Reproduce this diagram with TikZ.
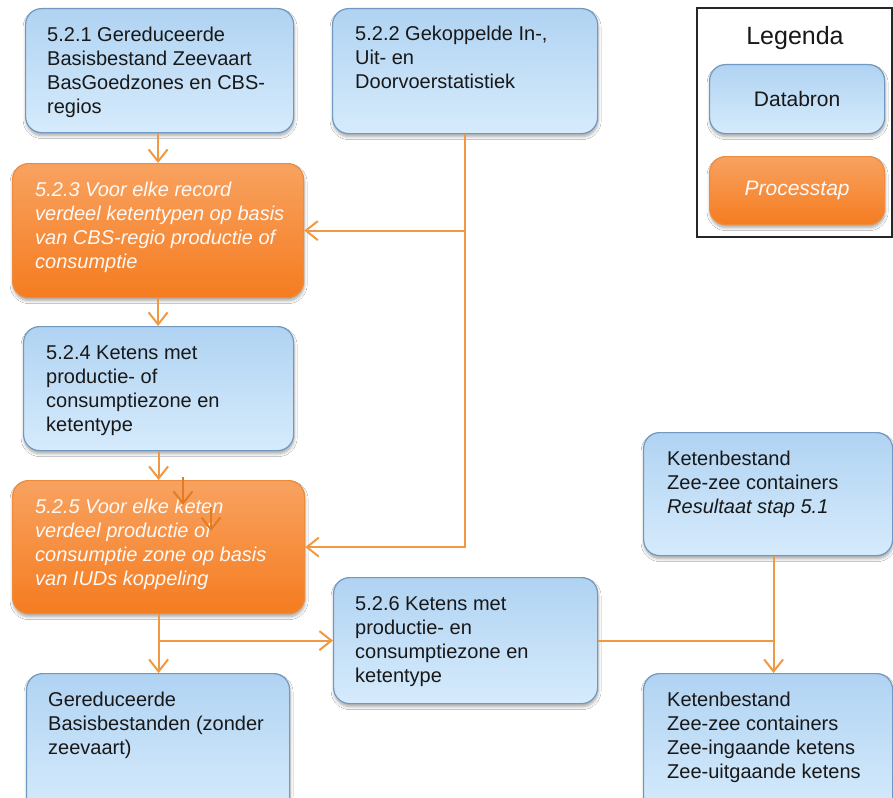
\documentclass[tikz,border=0pt]{standalone}
\usepackage{fontspec}
\setmainfont{Liberation Sans}
\usetikzlibrary{arrows.meta,shadows.blur,calc}

\definecolor{bluetop}{RGB}{176,211,242}
\definecolor{bluebot}{RGB}{214,235,252}
\definecolor{blueline}{RGB}{112,152,192}
\definecolor{orgtop}{RGB}{248,162,96}
\definecolor{orgbot}{RGB}{245,124,32}
\definecolor{orgline}{RGB}{236,140,62}
\definecolor{wire}{RGB}{241,153,66}
\definecolor{wiredark}{RGB}{226,124,36}
\definecolor{ink}{RGB}{24,24,24}

\tikzset{
  boxbase/.style={rectangle, rounded corners=16pt, line width=1.2pt, anchor=north west,
    inner sep=0pt,
    blur shadow={shadow xshift=0.5pt, shadow yshift=-3pt, shadow blur radius=3pt,
                 shadow blur steps=6, shadow opacity=35}},
  databron/.style={boxbase, draw=blueline, top color=bluetop, bottom color=bluebot},
  processtap/.style={boxbase, draw=orgline, top color=orgtop, bottom color=orgbot},
  boxtext/.style={anchor=north west, inner sep=0pt, align=left, text=ink,
    font=\fontsize{20}{24}\selectfont},
  proctext/.style={boxtext, text=white!94!orgtop, font=\fontsize{20}{24}\selectfont\itshape},
  conn/.style={draw=wire, line width=2pt},
  arr/.style={conn, -{Straight Barb[length=12pt, width=19pt, line width=2pt]}},
  loosearr/.style={arr, draw=wiredark},
}

\begin{document}
\begin{tikzpicture}[x=1pt, y=-1pt]
\useasboundingbox (0,0) rectangle (893,797);
\clip (0,0) rectangle (893,797);
\fill[white] (0,0) rectangle (893,797);

% boxes
\node[databron, minimum width=268pt, minimum height=124pt] (A) at (25,8) {};
\node[databron, minimum width=265pt, minimum height=125pt] (C) at (332,8) {};
\node[processtap, minimum width=291pt, minimum height=134pt] (B) at (12,163) {};
\node[databron, minimum width=270pt, minimum height=124pt] (D) at (23,326) {};
\node[processtap, minimum width=292pt, minimum height=133pt] (E) at (12,480) {};
\node[databron, minimum width=264pt, minimum height=126pt] (G) at (333,577) {};
\node[databron, minimum width=249pt, minimum height=123pt] (H) at (643,432) {};
\node[databron, minimum width=263pt, minimum height=140pt] (F) at (26,673) {};
\node[databron, minimum width=249pt, minimum height=140pt] (I) at (643,673) {};

% box texts
\node[boxtext] (tA) at ([xshift=22pt,yshift=-16.7pt]A.north west)
  {\strut 5.2.1 Gereduceerde\\Basisbestand Zeevaart\\BasGoedzones en CBS-\\regios};
\node[boxtext] (tC) at ([xshift=23pt,yshift=-15.5pt]C.north west)
  {\strut 5.2.2 Gekoppelde In-,\\Uit- en\\Doorvoerstatistiek};
\node[proctext] (tB) at ([xshift=23pt,yshift=-16.7pt]B.north west)
  {\strut 5.2.3 Voor elke record\\verdeel ketentypen op basis\\van CBS-regio productie of\\consumptie};
\node[boxtext] (tD) at ([xshift=23pt,yshift=-16.2pt]D.north west)
  {\strut 5.2.4 Ketens met\\productie- of\\consumptiezone en\\ketentype};
\node[proctext] (tE) at ([xshift=23pt,yshift=-16.2pt]E.north west)
  {\strut 5.2.5 Voor elke keten\\verdeel productie of\\consumptie zone op basis\\van IUDs koppeling};
\node[boxtext] (tG) at ([xshift=22pt,yshift=-16.2pt]G.north west)
  {\strut 5.2.6 Ketens met\\productie- en\\consumptiezone en\\ketentype};
\node[boxtext] (tF) at ([xshift=22pt,yshift=-16.7pt]F.north west)
  {\strut Gereduceerde\\Basisbestanden (zonder\\zeevaart)};
\node[boxtext] (tH) at ([xshift=24pt,yshift=-16.2pt]H.north west)
  {\strut Ketenbestand\\Zee-zee containers\\\textit{Resultaat stap 5.1}};
\node[boxtext] (tI) at ([xshift=24pt,yshift=-16.7pt]I.north west)
  {\strut Ketenbestand\\Zee-zee containers\\Zee-ingaande ketens\\Zee-uitgaande ketens};

% legend
\draw[black!85, line width=1.5pt] (697,8) rectangle (892,237);
\node[font=\fontsize{25}{29}\selectfont, text=ink] (legtitle) at (795,38) {Legenda};
\node[databron, minimum width=175pt, minimum height=69pt] (LD) at (709,64) {};
\node[font=\fontsize{21}{25}\selectfont, text=ink] at (LD.center) {Databron};
\node[processtap, minimum width=175pt, minimum height=68pt] (LP) at (709,156) {};
\node[font=\fontsize{21}{25}\selectfont\itshape, text=white!94!orgtop] at (LP.center) {Processtap};

% connectors
\draw[arr] (A.south -| B.north) -- (B.north);
\draw[arr] (B.south) -- (B.south |- D.north);
\draw[arr] (D.south -| E.north) -- (E.north);
\draw[arr] (C.south) |- (E.east);
\draw[arr] (C.south |- B.east) -- (B.east);
\draw[arr] (E.south) -- (E.south |- F.north);
\coordinate (split) at (E.south |- G.west);
\draw[arr] (split) -- (G.west);
\coordinate (hdrop) at ($(H.south)+(5.5,0)$);
\draw[conn] (G.east) -- (G.east -| hdrop);
\draw[arr] (hdrop) -- (hdrop |- I.north);

% two short loose arrows inside step 5.2.5
\coordinate (s1a) at (183,477);
\coordinate (s1b) at (183,505);
\coordinate (s2a) at (211,507);
\coordinate (s2b) at (211,531);
\draw[loosearr] (s1a) -- (s1b);
\draw[loosearr] (s2a) -- (s2b);
\end{tikzpicture}
\end{document}
